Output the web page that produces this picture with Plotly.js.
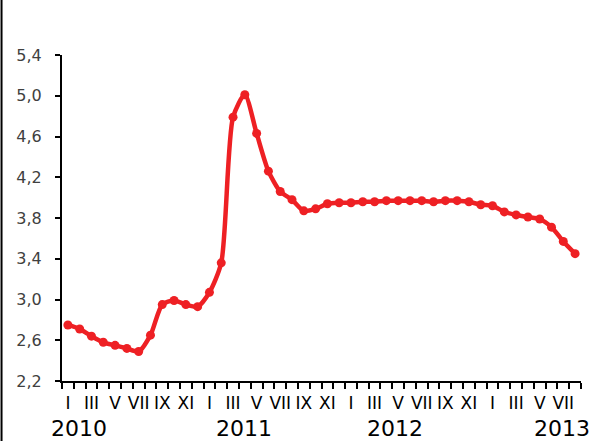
<!DOCTYPE html>
<html>
<head>
<meta charset="utf-8">
<script src="https://cdn.plot.ly/plotly-3.0.1.min.js"></script>
<style>html,body{margin:0;padding:0;background:#fff;}#chart{width:591px;height:441px;}</style>
</head>
<body>
<div id="chart"></div>
<script>
const monthNames = ['I','II','III','IV','V','VI','VII','VIII','IX','X','XI','XII'];
const yearLabels = ['2010','2011','2012','2013'];
const values2010 = [2.75, 2.71, 2.64, 2.58, 2.55, 2.52, 2.49, 2.65, 2.95, 2.99, 2.95, 2.93];
const values2011 = [3.07, 3.36, 4.79, 5.01, 4.63, 4.26, 4.06, 3.98, 3.87, 3.89, 3.94, 3.95];
const values2012 = [3.95, 3.96, 3.96, 3.97, 3.97, 3.97, 3.97, 3.96, 3.97, 3.97, 3.96, 3.93];
const values2013 = [3.92, 3.86, 3.83, 3.81, 3.79, 3.71, 3.57, 3.45];
const yTickVals = [2.2, 2.6, 3.0, 3.4, 3.8, 4.2, 4.6, 5.0, 5.4];

const values = [].concat(values2010, values2011, values2012, values2013);
const xIdx = values.map((_, i) => i);
const tickVals = [], tickText = [];
xIdx.forEach(i => { if (i % 2 === 0 && i < values.length - 1) { tickVals.push(i); tickText.push(monthNames[i % 12]); } });

const yearPos = [0.9, 14.9, 27.7, 41.9];
const annotations = yearLabels.map((t, k) => ({
  text: t, x: yearPos[k], xref: 'x', y: -0.145, yref: 'paper',
  xanchor: 'center', yanchor: 'middle', showarrow: false,
  font: {family: 'DejaVu Sans', size: 22, color: '#000'}
}));

const trace = {
  x: xIdx, y: values, type: 'scatter', mode: 'lines+markers',
  line: {color: '#ee2024', width: 4.5, shape: 'spline', smoothing: 0.7},
  marker: {color: '#ee2024', size: 9},
  hoverinfo: 'skip'
};

const layout = {
  width: 591, height: 441,
  margin: {l: 61.5, r: 10, t: 55, b: 60},
  paper_bgcolor: '#fff', plot_bgcolor: '#fff',
  showlegend: false,
  separators: ',.',
  xaxis: {
    range: [-0.5, values.length - 0.5],
    showgrid: false, zeroline: false,
    showline: true, linecolor: '#000', linewidth: 2,
    tickmode: 'array', tickvals: tickVals, ticktext: tickText,
    ticks: '', tickangle: 0, ticklabelstandoff: 6,
    tickfont: {family: 'DejaVu Sans', size: 17, color: '#000'},
    minor: {ticks: 'outside', ticklen: 6, tickwidth: 2, tickcolor: '#000',
            tickmode: 'linear', tick0: -0.5, dtick: 1, showgrid: false}
  },
  yaxis: {
    range: [2.2, 5.4],
    showgrid: false, zeroline: false,
    showline: true, linecolor: '#000', linewidth: 2,
    tickmode: 'array', tickvals: yTickVals, tickformat: '.1f',
    ticks: 'outside', ticklen: 5, tickwidth: 2, tickcolor: '#000',
    ticklabelstandoff: 10,
    tickfont: {family: 'DejaVu Sans', size: 16, color: '#404040'}
  },
  annotations: annotations,
  shapes: [{type: 'line', xref: 'paper', yref: 'paper',
            x0: -0.1165, x1: -0.1165, y0: -0.2, y1: 1.2,
            line: {color: '#000', width: 2}}]
};

Plotly.newPlot('chart', [trace], layout, {displayModeBar: false, staticPlot: true});
</script>
</body>
</html>
